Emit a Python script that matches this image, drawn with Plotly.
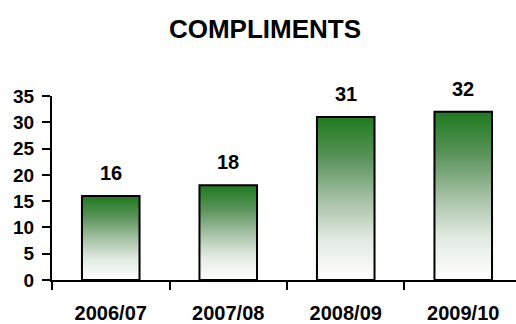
import plotly.graph_objects as go

# Compliments received per year
years = ["2006/07", "2007/08", "2008/09", "2009/10"]
compliments = [16, 18, 31, 32]
y_ticks = [0, 5, 10, 15, 20, 25, 30, 35]

BAR_WIDTH = 0.49
X_RANGE = [-0.5, 3.449]
FONT = dict(family="Liberation Sans, Arial, sans-serif", color="black", weight="bold")
GREEN_FADE = [
    [0.0, "#ffffff"],
    [0.25, "#e2eae2"],
    [0.5, "#a3bfa3"],
    [0.75, "#5a935a"],
    [1.0, "#1e7a1e"],
]

fig = go.Figure()

# Gradient bodies of the bars, drawn on a linear x axis that lines up with the categories
for i, v in enumerate(compliments):
    x0, x1 = i - BAR_WIDTH / 2, i + BAR_WIDTH / 2
    fig.add_trace(go.Scatter(
        x=[x0, x1, x1, x0, x0], y=[0, 0, v, v, 0],
        mode="lines", line=dict(width=0), fill="toself",
        fillgradient=dict(type="vertical", colorscale=GREEN_FADE),
        hoverinfo="skip", showlegend=False, xaxis="x", yaxis="y",
    ))

# Bar outlines on the category axis
fig.add_trace(go.Bar(
    x=years, y=compliments, width=BAR_WIDTH,
    marker=dict(color="rgba(0,0,0,0)", line=dict(color="black", width=2)),
    showlegend=False, xaxis="x2", yaxis="y",
))

for yr, v in zip(years, compliments):
    fig.add_annotation(
        x=yr, y=v, xref="x2", yref="y", text=str(v), showarrow=False,
        yanchor="bottom", yshift=10, font=dict(size=20, **FONT),
    )

fig.update_layout(
    width=516, height=324,
    margin=dict(l=52, r=0, t=96, b=39),
    paper_bgcolor="white", plot_bgcolor="white",
    showlegend=False,
    title=dict(
        text="COMPLIMENTS", x=265 / 516, xanchor="center",
        y=1 - 29 / 324, yanchor="middle", yref="container",
        font=dict(size=26, **FONT),
    ),
    xaxis=dict(
        range=X_RANGE, visible=False, fixedrange=True,
    ),
    xaxis2=dict(
        type="category", overlaying="x", side="bottom", range=X_RANGE,
        showline=True, linecolor="black", linewidth=2,
        ticks="outside", tickson="boundaries", ticklen=8, tickwidth=2, tickcolor="black",
        ticklabelstandoff=14,
        showgrid=False, zeroline=False,
        tickfont=dict(size=20, **FONT),
    ),
    yaxis=dict(
        range=[0, 35], tickvals=y_ticks,
        showline=True, linecolor="black", linewidth=2,
        ticks="outside", ticklen=8, tickwidth=2, tickcolor="black",
        ticklabelstandoff=4,
        showgrid=False, zeroline=False,
        tickfont=dict(size=19, **FONT),
    ),
)

fig.write_html("out.html")
